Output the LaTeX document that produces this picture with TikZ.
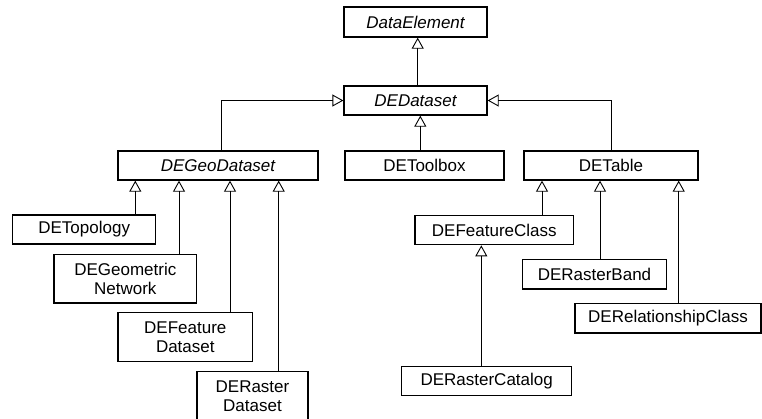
\documentclass[tikz,border=0pt]{standalone}
\usepackage{fontspec}
\setmainfont{Liberation Sans}
\usetikzlibrary{arrows.meta}
\tikzset{
  cls/.style={draw=black, line width=1.3pt, rectangle, inner sep=0pt, align=center,
    font=\fontsize{17}{19}\selectfont, fill=white},
  abs/.style={cls, font=\fontsize{17}{19}\selectfont\itshape},
  inh/.style={draw=black, line width=0.9pt, -{Triangle[open, length=11pt, width=12pt, line width=0.9pt]}}
}
\begin{document}
\begin{tikzpicture}[x=1pt, y=-1pt]
\clip (0,0) rectangle (762,418);
\fill[white] (0,0) rectangle (762,418);
% nodes
\node[abs, minimum width=143pt, minimum height=30pt] (de) at (415.5,22) {DataElement};
\node[abs, minimum width=143pt, minimum height=29pt] (ds) at (415.5,100.5) {DEDataset};
\node[abs, minimum width=200pt, minimum height=29pt] (geo) at (218,165.5) {DEGeoDataset};
\node[cls, minimum width=159pt, minimum height=29pt] (tb) at (424.5,165.5) {DEToolbox};
\node[cls, minimum width=174pt, minimum height=29pt] (tab) at (611,165.5) {DETable};
\node[cls, minimum width=143pt, minimum height=29pt] (topo) at (84.2,229.5) {DETopology};
\node[cls, minimum width=142.7pt, minimum height=48.3pt] (gn) at (125.3,278.8) {DEGeometric\\Network};
\node[cls, minimum width=134.7pt, minimum height=49.4pt] (fd) at (185.3,337) {DEFeature\\Dataset};
\node[cls, minimum width=111pt, minimum height=49pt] (rd) at (252.5,395.8) {DERaster\\Dataset};
\node[cls, minimum width=158.7pt, minimum height=29pt] (fc) at (494.3,230.2) {DEFeatureClass};
\node[cls, minimum width=144.4pt, minimum height=29.3pt] (rb) at (594.5,274.3) {DERasterBand};
\node[cls, minimum width=186pt, minimum height=29.3pt] (rc) at (668,318.3) {DERelationshipClass};
\node[cls, minimum width=170pt, minimum height=29.4pt] (cat) at (486.7,381) {DERasterCatalog};
% connector x positions
\coordinate (xa) at (417.7,0);
\coordinate (xb) at (221.7,0);
\coordinate (xc) at (420.3,0);
\coordinate (xd) at (611,0);
\coordinate (x1) at (135.3,0);
\coordinate (x2) at (179,0);
\coordinate (x3) at (230,0);
\coordinate (x4) at (278.7,0);
\coordinate (x5) at (542,0);
\coordinate (x6) at (600,0);
\coordinate (x7) at (678.7,0);
\coordinate (x8) at (481.3,0);
% connectors
\draw[inh] (ds.north -| xa) -- (de.south -| xa);
\draw[inh] (geo.north -| xb) |- (ds.west);
\draw[inh] (tb.north -| xc) -- (ds.south -| xc);
\draw[inh] (tab.north -| xd) |- (ds.east);
\draw[inh] (topo.north -| x1) -- (geo.south -| x1);
\draw[inh] (gn.north -| x2) -- (geo.south -| x2);
\draw[inh] (fd.north -| x3) -- (geo.south -| x3);
\draw[inh] (rd.north -| x4) -- (geo.south -| x4);
\draw[inh] (fc.north -| x5) -- (tab.south -| x5);
\draw[inh] (rb.north -| x6) -- (tab.south -| x6);
\draw[inh] (rc.north -| x7) -- (tab.south -| x7);
\draw[inh] (cat.north -| x8) -- (fc.south -| x8);
\end{tikzpicture}
\end{document}
